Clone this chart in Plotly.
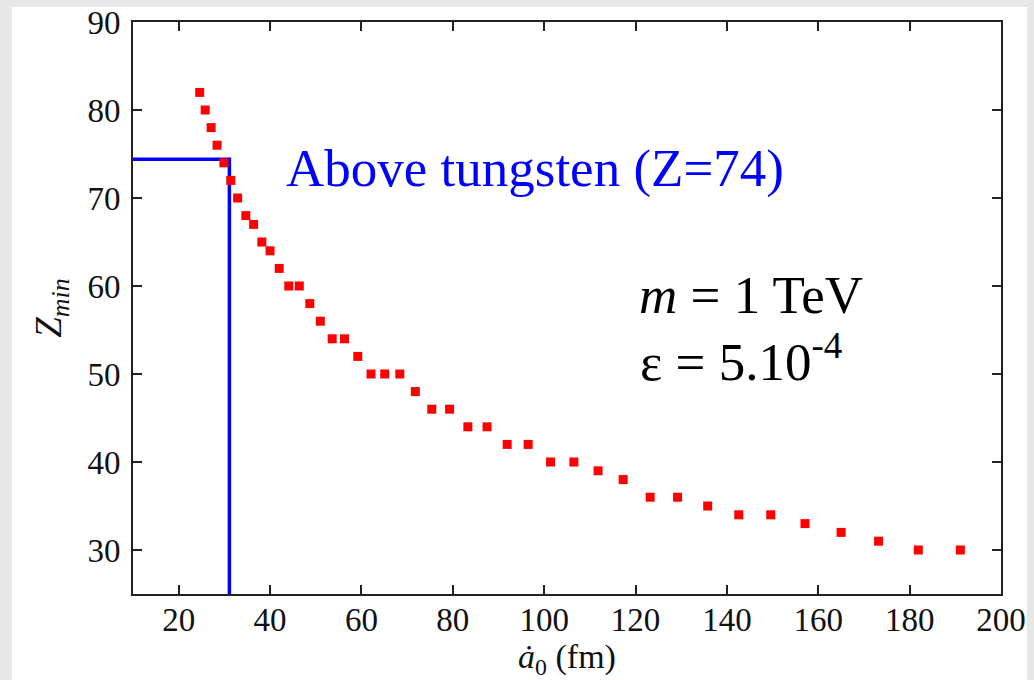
import plotly.graph_objects as go

# Minimum charge Z_min versus a0 (fm)
a0_fm = [24.6, 25.8, 27.1, 28.4, 29.9, 31.4, 32.9, 34.7, 36.4, 38.2,
         40.0, 42.0, 44.1, 46.4, 48.7, 51.0, 53.6, 56.3, 59.2, 62.1,
         65.1, 68.4, 71.8, 75.4, 79.3, 83.3, 87.5, 91.9, 96.5, 101.4,
         106.5, 111.8, 117.3, 123.2, 129.2, 135.8, 142.6, 149.6, 157.1,
         165.0, 173.2, 181.9, 191.1]
z_min = [82, 80, 78, 76, 74, 72, 70, 68, 67, 65,
         64, 62, 60, 60, 58, 56, 54, 54, 52, 50,
         50, 50, 48, 46, 46, 44, 44, 42, 42, 40,
         40, 39, 38, 36, 36, 35, 34, 34, 33,
         32, 31, 30, 30]

# Tungsten threshold guide
z_tungsten = 74.4
a0_tungsten = 31.1

x_range = [10, 200]
y_range = [25, 90]
x_ticks = [20, 40, 60, 80, 100, 120, 140, 160, 180, 200]
y_ticks = [30, 40, 50, 60, 70, 80, 90]

serif = "Liberation Serif"

fig = go.Figure()

fig.add_trace(go.Scatter(
    x=[x_range[0], a0_tungsten, a0_tungsten],
    y=[z_tungsten, z_tungsten, y_range[0]],
    mode="lines",
    line=dict(color="#0000ff", width=3.5),
    hoverinfo="skip",
    cliponaxis=False,
))

fig.add_trace(go.Scatter(
    x=a0_fm, y=z_min,
    mode="markers",
    marker=dict(symbol="square", size=9, color="#ff0000", line=dict(width=0)),
))

axis_common = dict(
    showgrid=False, zeroline=False, automargin=False,
    showline=True, linecolor="#222222", linewidth=2, mirror="ticks",
    ticks="inside", ticklen=9, tickwidth=2, tickcolor="#222222",
    tickfont=dict(family=serif, size=33, color="#111111"),
)

fig.update_xaxes(
    range=x_range, tickvals=x_ticks, ticklabelstandoff=-5,
    title=dict(text="<i>ȧ</i><sub>0</sub> (fm)", standoff=8,
               font=dict(family=serif, size=34, color="#111111")),
    **axis_common,
)
fig.update_yaxes(
    range=y_range, tickvals=y_ticks, ticklabelstandoff=4,
    title=dict(text="<i>Z<sub>min</sub></i>", standoff=14,
               font=dict(family=serif, size=37, color="#111111")),
    **axis_common,
)

fig.add_annotation(
    x=43.0, y=73.3, xref="x", yref="y",
    text="Above tungsten (Z=74)", showarrow=False,
    xanchor="left", yanchor="middle",
    font=dict(family=serif, size=53, color="#0000ff"),
)
fig.add_annotation(
    x=120.3, y=59.0, xref="x", yref="y",
    text="<i>m</i> = 1 TeV", showarrow=False,
    xanchor="left", yanchor="middle",
    font=dict(family=serif, size=53, color="#000000"),
)
fig.add_annotation(
    x=120.6, y=51.8, xref="x", yref="y",
    text="ε = 5.10<sup>-4</sup>", showarrow=False,
    xanchor="left", yanchor="middle",
    font=dict(family=serif, size=53, color="#000000"),
)

# White slide panel on a light grey surround
fig.add_shape(
    type="rect", xref="paper", yref="paper", layer="below",
    x0=-121 / 868, x1=(1027 - 133) / 868, y0=-86 / 572, y1=(680 - 7 - 86) / 572,
    fillcolor="#ffffff", line=dict(width=0),
)

fig.update_layout(
    width=1034, height=680,
    margin=dict(l=133, r=33, t=22, b=86),
    paper_bgcolor="#e7e7e7",
    plot_bgcolor="rgba(0,0,0,0)",
    showlegend=False,
)

fig.write_html("out.html")
